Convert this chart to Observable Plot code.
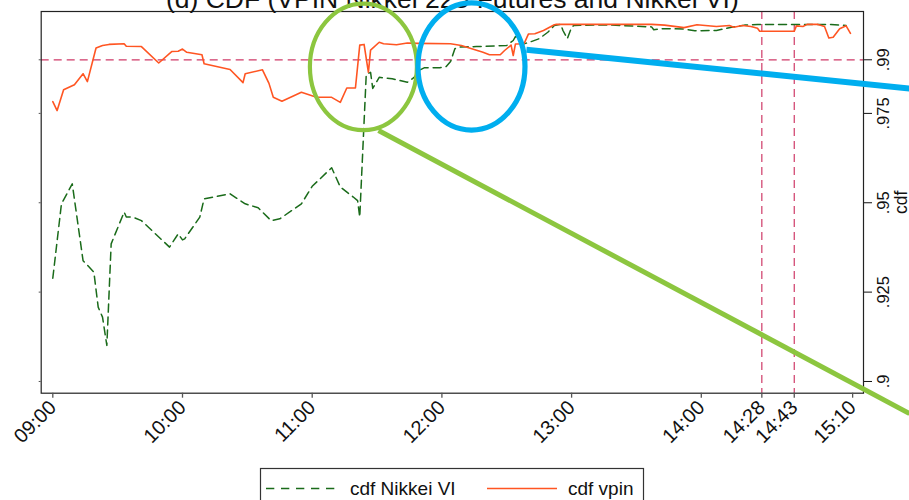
<!DOCTYPE html>
<html><head><meta charset="utf-8">
<script src="https://cdn.jsdelivr.net/npm/d3@7"></script>
<script src="https://cdn.jsdelivr.net/npm/@observablehq/plot@0.6"></script>
<style>
html,body{margin:0;padding:0;background:#fff;}
#chart{width:909px;height:500px;overflow:hidden;position:relative;}
</style></head><body><div id="chart"></div>
<script>
const titleText = "(d) CDF (VPIN Nikkei 225 Futures and Nikkei VI)";
const yLabel = "cdf";
const legendLabels = ["cdf Nikkei VI", "cdf vpin"];

const vpinTime = ["09:00","09:02","09:05","09:10","09:14","09:16","09:20","09:23","09:26","09:33","09:34","09:41","09:49","09:55","09:58","10:00","10:02","10:09","10:10","10:22","10:28","10:29","10:37","10:40","10:42","10:46","10:55","11:02","11:09","11:13","11:16","11:20","11:22","11:24","11:26","11:27","11:31","11:33","11:39","11:44","11:49","12:04","12:09","12:19","12:22","12:27","12:29","12:32","12:33","12:34","12:38","12:40","12:43","12:47","12:52","12:53","13:06","13:18","13:37","13:43","13:52","13:58","14:07","14:13","14:15","14:19","14:23","14:26","14:27","14:43","14:44","14:47","14:49","14:54","14:57","14:59","15:01","15:04","15:07","15:09"];
const vpinCdf = [.9783,.9758,.9816,.9830,.9861,.9839,.9933,.9940,.9943,.9945,.9938,.9937,.9891,.9923,.9924,.9930,.9921,.9914,.9889,.9873,.9836,.9861,.9872,.9834,.9795,.9784,.9809,.9795,.9795,.9781,.9821,.9821,.9941,.9943,.9865,.9927,.9949,.9945,.9942,.9947,.9946,.9945,.9940,.9921,.9914,.9914,.9926,.9941,.9912,.9944,.9945,.9972,.9973,.9982,.9998,.9999,.9999,.9999,.9999,.9997,.9990,.9998,.9993,.9996,.9991,.9996,.9993,.9988,.9980,.9980,.9995,.9993,.9999,.9999,.9993,.9961,.9963,.9987,.9995,.9974];

const viTime = ["09:00","09:04","09:09","09:14","09:19","09:21","09:23","09:25","09:27","09:33","09:34","09:37","09:41","09:54","09:58","10:00","10:01","10:08","10:10","10:22","10:29","10:35","10:41","10:45","10:55","11:00","11:09","11:13","11:19","11:21","11:22","11:25","11:27","11:28","11:31","11:37","11:44","11:47","11:50","11:52","11:59","12:02","12:04","12:06","12:08","12:16","12:30","12:33","12:34","12:38","12:40","12:45","12:49","12:52","12:55","12:56","12:58","13:00","13:01","13:15","13:37","13:38","13:41","13:44","13:52","13:57","14:07","14:14","14:20","14:26","14:43","15:00","15:07"];
const viCdf = [.9289,.9497,.9553,.9338,.9306,.9208,.9180,.9101,.9385,.9474,.9460,.9460,.9450,.9376,.9413,.9396,.9399,.9460,.9511,.9525,.9497,.9486,.9450,.9455,.9497,.9546,.9598,.9544,.9516,.9506,.9460,.9859,.9865,.9820,.9851,.9847,.9837,.9850,.9872,.9878,.9878,.9881,.9895,.9931,.9936,.9937,.9940,.9954,.9965,.9945,.9948,.9959,.9977,.9996,.9999,.9982,.9959,.9991,.9996,.9998,.9992,.9984,.9987,.9987,.9986,.9981,.9982,.9991,.9997,.9999,.9999,.9999,.9996];

const xTickLabels = ["09:00","10:00","11:00","12:00","13:00","14:00","14:28","14:43","15:10"];
const yTickValues = [.9, .925, .95, .975, .99];
const eventTimes = ["14:28","14:43"];
const thresholdCdf = [.99];
const xDomain = ["08:54:38","15:15:02"];
const yDomain = [0.89672, 1.00351];

// annotation rings (data space extents) and pointer lines
const ringLeft = ["10:59:10","11:49:10"];
const ringRight = ["11:48:40","12:38:40"];
const ringTop = [1.0056, 1.0058];
const ringBottom = [0.9702, 0.9702];
const pointerStartTime = ["11:30:40","12:39:06"];
const pointerStartCdf = [0.97022, 0.99280];
const pointerEndTime = ["15:36:20","15:36:20"];
const pointerEndCdf = [0.89104, 0.98197];

const parse = s => d3.timeParse(s.length > 5 ? "%H:%M:%S" : "%H:%M")(s);
const fmtX = d3.timeFormat("%H:%M");
const fmtY = d => d3.format(".3~f")(d).replace(/^0/, "");

const vpin = vpinTime.map((t, i) => ({t: parse(t), v: vpinCdf[i]}));
const vi = viTime.map((t, i) => ({t: parse(t), v: viCdf[i]}));
const xTicks = xTickLabels.map(parse);
const pointers = pointerStartTime.map((t, i) => ({
  x1: parse(t), y1: pointerStartCdf[i], x2: parse(pointerEndTime[i]), y2: pointerEndCdf[i]
}));

const FONT = "'Liberation Sans', Arial, Helvetica, sans-serif";
const RULE = "#cf3a68";
const GREEN = "#1a6b1a";
const ORANGE = "#ff5522";
const RING_GREEN = "#8cc63f";
const RING_BLUE = "#00aeef";
const dash = "8,5";

const plot = Plot.plot({
  width: 909, height: 500,
  marginLeft: 40.7, marginRight: 46, marginTop: 11, marginBottom: 107.3,
  style: {fontFamily: FONT, background: "#fff", overflow: "visible", color: "#111"},
  x: {type: "time", domain: xDomain.map(parse), label: null},
  y: {domain: yDomain, label: null},
  marks: [
    Plot.ruleY(thresholdCdf, {stroke: RULE, strokeWidth: 1.2, strokeDasharray: dash}),
    Plot.ruleX(eventTimes.map(parse), {stroke: RULE, strokeWidth: 1.2, strokeDasharray: dash}),
    Plot.line(vi, {x: "t", y: "v", stroke: GREEN, strokeWidth: 1.5, strokeDasharray: dash}),
    Plot.line(vpin, {x: "t", y: "v", stroke: ORANGE, strokeWidth: 1.6}),
    Plot.frame({stroke: "#222", strokeWidth: 1.2}),
    Plot.axisX({ticks: xTicks, tickSize: 5, tickFormat: () => "", stroke: "#555", strokeWidth: 1.3}),
    Plot.text(xTicks, {x: d => d, frameAnchor: "bottom", text: d => fmtX(d), rotate: -45,
      textAnchor: "end", lineAnchor: "middle", dy: 11, fontSize: 20, fill: "#111"}),
    Plot.axisY({anchor: "right", ticks: yTickValues, tickSize: 8, tickFormat: () => "", stroke: "#111"}),
    Plot.axisY({anchor: "left", ticks: yTickValues, tickSize: 2, tickFormat: () => "", stroke: "#555"}),
    Plot.text(yTickValues, {y: d => d, frameAnchor: "right", text: d => fmtY(d), rotate: -90,
      textAnchor: "middle", lineAnchor: "middle", dx: 20, fontSize: 16.5, fill: "#111"}),
    Plot.text([yLabel], {frameAnchor: "right", rotate: -90, dx: 37.5, textAnchor: "middle",
      lineAnchor: "middle", fontSize: 17.5, fill: "#111"}),
    Plot.text([titleText], {frameAnchor: "top", lineAnchor: "bottom", dy: -3.5, fontSize: 26.5, fill: "#111"}),
    Plot.link([pointers[0]], {x1: "x1", y1: "y1", x2: "x2", y2: "y2", stroke: RING_GREEN, strokeWidth: 5}),
    Plot.link([pointers[1]], {x1: "x1", y1: "y1", x2: "x2", y2: "y2", stroke: RING_BLUE, strokeWidth: 6})
  ]
});

const sx = plot.scale("x"), sy = plot.scale("y");
const svg = d3.select(plot);
const ringColors = [RING_GREEN, RING_BLUE];
const ringWidths = [4.2, 5.2];
ringLeft.forEach((l, i) => {
  const x0 = sx.apply(parse(l)), x1 = sx.apply(parse(ringRight[i]));
  const y0 = sy.apply(ringTop[i]), y1 = sy.apply(ringBottom[i]);
  svg.append("ellipse")
    .attr("cx", (x0 + x1) / 2).attr("cy", (y0 + y1) / 2)
    .attr("rx", (x1 - x0) / 2).attr("ry", (y1 - y0) / 2)
    .attr("fill", "none").attr("stroke", ringColors[i]).attr("stroke-width", ringWidths[i]);
});

// legend box below the plot
const lg = svg.append("g").attr("font-family", FONT).attr("font-size", 19)
  .attr("fill", "#111").attr("text-anchor", "start");
lg.append("rect").attr("x", 260.5).attr("y", 468.5).attr("width", 383).attr("height", 60)
  .attr("fill", "#fff").attr("stroke", "#333").attr("stroke-width", 1.2);
lg.append("line").attr("x1", 266).attr("x2", 341).attr("y1", 488.5).attr("y2", 488.5)
  .attr("stroke", GREEN).attr("stroke-width", 1.5).attr("stroke-dasharray", "8.3,6.7");
lg.append("text").attr("x", 350).attr("y", 495).attr("text-anchor", "start").text(legendLabels[0]);
lg.append("line").attr("x1", 487).attr("x2", 557).attr("y1", 488.5).attr("y2", 488.5)
  .attr("stroke", ORANGE).attr("stroke-width", 1.6);
lg.append("text").attr("x", 568).attr("y", 495).attr("text-anchor", "start").text(legendLabels[1]);

document.getElementById("chart").appendChild(plot);
</script></body></html>
